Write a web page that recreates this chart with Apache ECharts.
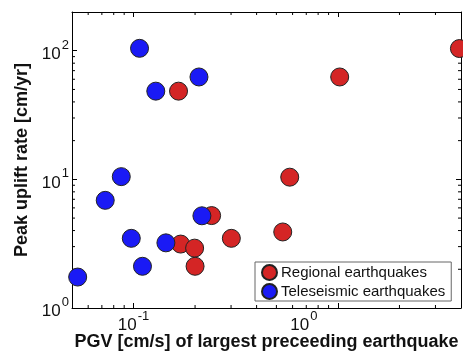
<!DOCTYPE html>
<html>
<head>
<meta charset="utf-8">
<script src="https://cdn.jsdelivr.net/npm/echarts@6/dist/echarts.min.js"></script>
<style>html,body{margin:0;padding:0;background:#fff}#c{width:463px;height:355px}</style>
</head>
<body>
<div id="c"></div>
<script>
// Data
const regionalX = [0.166, 0.170, 0.199, 0.200, 0.241, 0.301, 0.537, 0.581, 1.02, 3.93];
const regionalY = [48.5, 3.14, 2.92, 2.11, 5.23, 3.48, 3.9, 10.4, 62.5, 104];
const teleX = [0.107, 0.1285, 0.209, 0.0871, 0.0727, 0.0975, 0.1106, 0.0533, 0.144, 0.216];
const teleY = [104.4, 48.5, 62.5, 10.5, 6.87, 3.48, 2.11, 1.74, 3.21, 5.21];
const seriesNames = ['Regional earthquakes', 'Teleseismic earthquakes'];
const xRange = [0.05, 4];
const yRange = [1, 200];
const minorXTicks = [0.06, 0.07, 0.08, 0.09, 0.2, 0.3, 0.4, 0.5, 0.6, 0.7, 0.8, 0.9, 2, 3];
const minorYTicks = [2, 3, 4, 5, 6, 7, 8, 9, 20, 30, 40, 50, 60, 70, 80, 90];

const FONT = '"Liberation Sans", Arial, Helvetica, sans-serif';
const chart = echarts.init(document.getElementById('c'));

function expOf(v) {
  const e = Math.log10(v);
  const r = Math.round(e);
  return Math.abs(e - r) < 1e-6 ? r : null;
}
const richLab = {
  b: { fontSize: 17, fontFamily: FONT, color: '#111', verticalAlign: 'bottom', lineHeight: 24 },
  s: { fontSize: 13, fontFamily: FONT, color: '#111', verticalAlign: 'top', lineHeight: 24, padding: [0, 0, 0, 1] },
  p: { width: 68 }
};
function xFmt(v) {
  const e = expOf(v);
  if (e === null) return '';
  if (e === 0) return '{b|10}{s|0}{p|}';
  return '{b|10}{s|' + e + '}';
}
function yFmt(v) {
  const e = expOf(v);
  if (e === null) return '';
  return '{b|10}{s|' + e + '}';
}

const lineStyle = { color: '#000', width: 1 };
const tickData = minorXTicks.map(v => [v, 2, 0]).concat(minorYTicks.map(v => [0.1, v, 1]));

chart.setOption({
  animation: false,
  backgroundColor: '#fff',
  textStyle: { fontFamily: FONT },
  grid: { left: 72, right: 2, top: 12, bottom: 47, containLabel: false, outerBoundsMode: 'none' },
  legend: {
    data: seriesNames,
    orient: 'vertical',
    left: 255, top: 262,
    padding: [2, 6, 1, 6],
    itemGap: 2,
    itemWidth: 15, itemHeight: 15,
    icon: 'circle',
    borderColor: '#666', borderWidth: 1,
    backgroundColor: '#fff',
    textStyle: { fontSize: 15, lineHeight: 17, fontFamily: FONT, color: '#111', padding: [0, 0, 0, -1] }
  },
  xAxis: [{
    type: 'log', logBase: 10, min: xRange[0], max: xRange[1],
    name: 'PGV [cm/s] of largest preceeding earthquake',
    nameLocation: 'middle', nameGap: 25, nameMoveOverlap: false,
    nameTextStyle: { fontSize: 18, fontWeight: 'bold', color: '#111', fontFamily: FONT },
    axisLine: { show: true, lineStyle },
    axisTick: { show: true, inside: true, length: 5, lineStyle },
    axisLabel: { formatter: xFmt, rich: richLab, margin: 2, showMinLabel: false, showMaxLabel: false },
    splitLine: { show: false }
  }, {
    type: 'log', logBase: 10, min: xRange[0], max: xRange[1], position: 'top',
    axisLine: { show: true, lineStyle },
    axisTick: { show: true, inside: true, length: 5, lineStyle },
    axisLabel: { show: false },
    splitLine: { show: false }
  }],
  yAxis: [{
    type: 'log', logBase: 10, min: yRange[0], max: yRange[1],
    name: 'Peak uplift rate [cm/yr]',
    nameLocation: 'middle', nameGap: 41, nameRotate: 90, nameMoveOverlap: false,
    nameTextStyle: { fontSize: 18, fontWeight: 'bold', color: '#111', fontFamily: FONT },
    axisLine: { show: true, lineStyle },
    axisTick: { show: true, inside: true, length: 5, lineStyle },
    axisLabel: { formatter: yFmt, rich: richLab, margin: 3, showMaxLabel: false },
    splitLine: { show: false }
  }, {
    type: 'log', logBase: 10, min: yRange[0], max: yRange[1], position: 'right',
    axisLine: { show: true, lineStyle },
    axisTick: { show: true, inside: true, length: 5, lineStyle },
    axisLabel: { show: false },
    splitLine: { show: false }
  }],
  series: [{
    type: 'custom',
    silent: true,
    clip: false,
    data: tickData,
    encode: { x: 0, y: 1 },
    renderItem: function (params, api) {
      const cs = params.coordSys;
      const flag = api.value(2);
      const L = 3;
      if (flag === 0) {
        const px = api.coord([api.value(0), 2])[0];
        return { type: 'group', children: [
          { type: 'line', shape: { x1: px, y1: cs.y + cs.height, x2: px, y2: cs.y + cs.height - L }, style: { stroke: '#000', lineWidth: 1 } },
          { type: 'line', shape: { x1: px, y1: cs.y, x2: px, y2: cs.y + L }, style: { stroke: '#000', lineWidth: 1 } }
        ]};
      }
      const py = api.coord([0.1, api.value(1)])[1];
      return { type: 'group', children: [
        { type: 'line', shape: { x1: cs.x, y1: py, x2: cs.x + L, y2: py }, style: { stroke: '#000', lineWidth: 1 } },
        { type: 'line', shape: { x1: cs.x + cs.width, y1: py, x2: cs.x + cs.width - L, y2: py }, style: { stroke: '#000', lineWidth: 1 } }
      ]};
    }
  }, {
    name: seriesNames[0],
    type: 'scatter',
    clip: false,
    symbolSize: 18,
    data: regionalX.map((x, i) => [x, regionalY[i]]),
    itemStyle: { color: '#d42525', borderColor: '#222', borderWidth: 1, opacity: 1 }
  }, {
    name: seriesNames[1],
    type: 'scatter',
    clip: false,
    symbolSize: 18,
    data: teleX.map((x, i) => [x, teleY[i]]),
    itemStyle: { color: '#1a1af5', borderColor: '#222', borderWidth: 1, opacity: 1 }
  }]
});
</script>
</body>
</html>
